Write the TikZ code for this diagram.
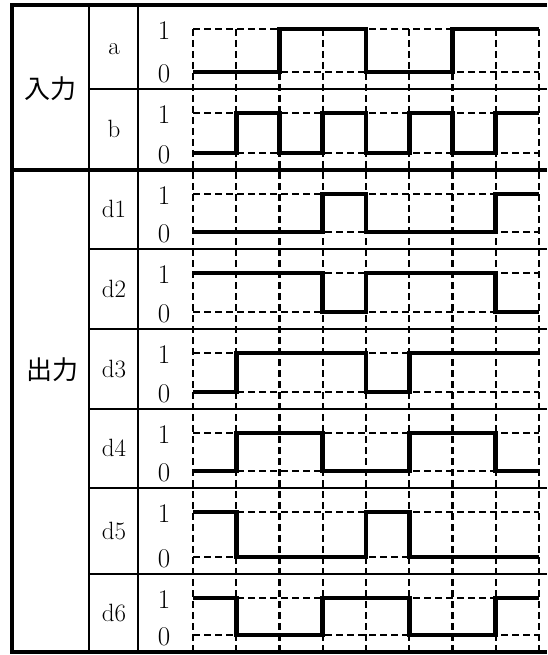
\documentclass[tikz,border=0pt]{standalone}
\usepackage{fontspec}
\newfontfamily\cjk{Noto Sans CJK JP}
\def\firstbit#1,#2\relax{#1}

\begin{document}
\begin{tikzpicture}[x=1pt,y=-1pt,
	frame/.style={line width=3.2pt},
	rule/.style={line width=1.6pt},
	grid/.style={line width=2.2pt,dash pattern=on 7pt off 4pt},
	wave/.style={line width=4.6pt,line join=miter},
	lbl/.style={inner sep=0pt,font=\fontsize{25}{30}\selectfont},
	lvl/.style={inner sep=0pt,font=\fontsize{27}{32}\selectfont},
	group/.style={inner sep=0pt,font=\cjk\fontsize{26}{30}\selectfont}]
	\useasboundingbox (0,0) rectangle (547,655);
	\foreach \X in {0,...,8}
	{\draw[grid] ({193+43.25*\X},29) -- ({193+43.25*\X},652);}
	\foreach \X/\Y/\W/\B [count=\Z] in {a/5/89/{0,0,1,1,0,0,1,1}, b/89/170/{0,1,0,1,0,1,0,1},
		d1/170/249/{0,0,0,1,0,0,0,1}, d2/249/329/{1,1,1,0,1,1,1,0},
		d3/329/409/{0,1,1,1,0,1,1,1}, d4/409/488/{0,1,1,0,0,1,1,0},
		d5/488/574/{1,0,0,0,1,0,0,0}, d6/574/652/{1,0,0,1,1,0,0,1}}
	{
		\draw[rule] (89,\Y) -- (547,\Y);
		\draw[grid] (193,\Y+24) -- (539,\Y+24) (193,\W-17) -- (539,\W-17);
		\node[lbl,anchor=base] (r\Z) at (114,{(\Y+\W)/2+8}) {\X};
		\node[lvl] (one\Z) at (164,\Y+26) {1};
		\node[lvl] (zero\Z) at (164,\W-15) {0};
		\edef\S{\expandafter\firstbit\B\relax}
		\draw[wave] (193,{\W-17-(\W-\Y-41)*\S})
			\foreach \v [count=\i] in \B {|- ({193+43.25*\i},{\W-17-(\W-\Y-41)*\v})};
	}
	\draw[rule] (89,5) -- (89,652) (138,5) -- (138,652);
	\draw[frame] (547,5) -- (12,5) -- (12,652) -- (547,652);
	\draw[frame] (12,170) -- (547,170);
	\node[group] (in) at (50,89) {入力};
	\node[group] (out) at (52,370) {出力};
\end{tikzpicture}
\end{document}
